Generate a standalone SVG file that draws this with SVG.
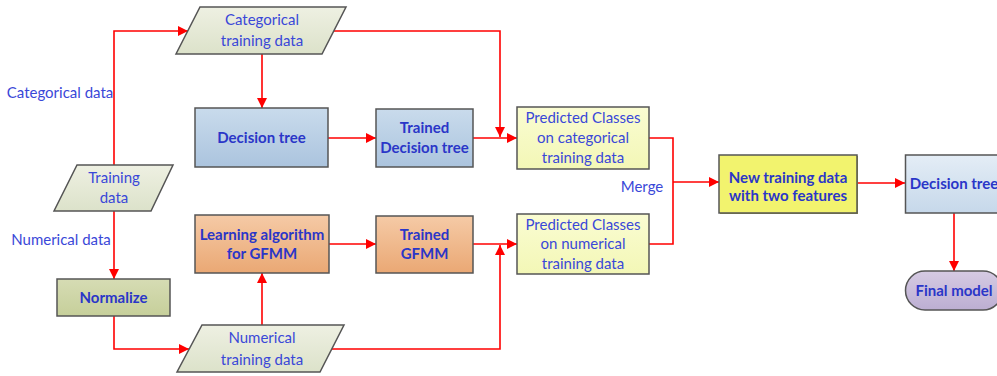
<svg xmlns="http://www.w3.org/2000/svg" width="997" height="376" viewBox="0 0 997 376">
<defs>
<linearGradient id="gBlue" x1="0" y1="0" x2="0" y2="1"><stop offset="0" stop-color="#c9dbec"/><stop offset="1" stop-color="#abc4de"/></linearGradient>
<linearGradient id="gBlue2" x1="0" y1="0" x2="0" y2="1"><stop offset="0" stop-color="#e4edf6"/><stop offset="1" stop-color="#c6d8ea"/></linearGradient>
<linearGradient id="gOrange" x1="0" y1="0" x2="0" y2="1"><stop offset="0" stop-color="#f5caa6"/><stop offset="1" stop-color="#eaa874"/></linearGradient>
<linearGradient id="gPara" x1="0" y1="0" x2="0" y2="1"><stop offset="0" stop-color="#eef0e2"/><stop offset="1" stop-color="#dce2ca"/></linearGradient>
<linearGradient id="gNorm" x1="0" y1="0" x2="0" y2="1"><stop offset="0" stop-color="#d6dcb4"/><stop offset="1" stop-color="#c6cf9a"/></linearGradient>
<linearGradient id="gPred" x1="0" y1="0" x2="0" y2="1"><stop offset="0" stop-color="#fafcd2"/><stop offset="1" stop-color="#f3f7b6"/></linearGradient>
<linearGradient id="gPurple" x1="0" y1="0" x2="0" y2="1"><stop offset="0" stop-color="#d6cbe3"/><stop offset="1" stop-color="#bcaed2"/></linearGradient>
<marker id="ah" viewBox="0 0 10 10" refX="10" refY="5" markerWidth="10" markerHeight="10" markerUnits="userSpaceOnUse" orient="auto">
<path d="M0,0 L10,5 L0,10 z" fill="#ff0000"/>
</marker>
</defs>
<style>
.shape{stroke:#555555;stroke-width:1.5}
.t{font-family:Lato,"Open Sans","Liberation Sans",sans-serif;font-size:15px;fill:#3a48d8;text-anchor:middle}
.b{font-family:Lato,"Open Sans","Liberation Sans",sans-serif;font-size:15px;font-weight:bold;fill:#2a36c8;text-anchor:middle}
.c{fill:none;stroke:#ff0000;stroke-width:1.6}
</style>
<rect width="997" height="376" fill="#ffffff"/>

<g id="connectors">
<path class="c" d="M114,165 V31 H188" marker-end="url(#ah)"/>
<path class="c" d="M262,54 V108" marker-end="url(#ah)"/>
<path class="c" d="M334,31 H500 V137" marker-end="url(#ah)"/>
<path class="c" d="M328,138 H376" marker-end="url(#ah)"/>
<path class="c" d="M473,138 H517" marker-end="url(#ah)"/>
<path class="c" d="M114,211 V279" marker-end="url(#ah)"/>
<path class="c" d="M114,316 V349 H189" marker-end="url(#ah)"/>
<path class="c" d="M262,325 V273" marker-end="url(#ah)"/>
<path class="c" d="M329,244 H376" marker-end="url(#ah)"/>
<path class="c" d="M473,244 H517" marker-end="url(#ah)"/>
<path class="c" d="M332,349 H500 V245" marker-end="url(#ah)"/>
<path class="c" d="M649,138 H673 V244 H649"/>
<path class="c" d="M673,182 H719" marker-end="url(#ah)"/>
<path class="c" d="M857,183 H905" marker-end="url(#ah)"/>
<path class="c" d="M954,213 V271" marker-end="url(#ah)"/>
</g>

<g id="lbl-categorical">
<text class="t" x="60" y="98">Categorical data</text>
</g>
<g id="lbl-numerical">
<text class="t" x="61" y="245">Numerical data</text>
</g>
<g id="lbl-merge">
<text class="t" x="642" y="192">Merge</text>
</g>

<g id="categorical-training-data">
<polygon class="shape" fill="url(#gPara)" points="200,7 346,7 322,54 176,54"/>
<text class="t" x="262" y="25">Categorical</text>
<text class="t" x="262" y="46">training data</text>
</g>

<g id="decision-tree">
<rect class="shape" fill="url(#gBlue)" x="195" y="108" width="133" height="59"/>
<text class="b" x="261.5" y="142.5">Decision tree</text>
</g>

<g id="trained-decision-tree">
<rect class="shape" fill="url(#gBlue)" x="376" y="109" width="97" height="58"/>
<text class="b" x="424.5" y="133">Trained</text>
<text class="b" x="424.5" y="153">Decision tree</text>
</g>

<g id="predicted-categorical">
<rect class="shape" fill="url(#gPred)" x="517" y="107" width="132" height="62"/>
<text class="t" x="583" y="123">Predicted Classes</text>
<text class="t" x="583" y="143">on categorical</text>
<text class="t" x="583" y="163">training data</text>
</g>

<g id="training-data">
<polygon class="shape" fill="url(#gPara)" points="77,165 173,165 151,211 54,211"/>
<text class="t" x="114" y="183">Training</text>
<text class="t" x="114" y="203">data</text>
</g>

<g id="normalize">
<rect class="shape" fill="url(#gNorm)" x="57" y="279" width="113" height="37"/>
<text class="b" x="113.5" y="302.5">Normalize</text>
</g>

<g id="learning-algorithm">
<rect class="shape" fill="url(#gOrange)" x="195" y="215" width="134" height="58"/>
<text class="b" x="262" y="240">Learning algorithm</text>
<text class="b" x="262" y="259">for GFMM</text>
</g>

<g id="numerical-training-data">
<polygon class="shape" fill="url(#gPara)" points="202,325 344,325 320,372 177,372"/>
<text class="t" x="262" y="343">Numerical</text>
<text class="t" x="262" y="365">training data</text>
</g>

<g id="trained-gfmm">
<rect class="shape" fill="url(#gOrange)" x="376" y="216" width="97" height="57"/>
<text class="b" x="424.5" y="240">Trained</text>
<text class="b" x="424.5" y="259">GFMM</text>
</g>

<g id="predicted-numerical">
<rect class="shape" fill="url(#gPred)" x="517" y="214" width="132" height="60"/>
<text class="t" x="583" y="230">Predicted Classes</text>
<text class="t" x="583" y="249">on numerical</text>
<text class="t" x="583" y="269">training data</text>
</g>

<g id="new-training-data">
<rect x="720" y="156" width="138" height="58" fill="#a0a040"/>
<rect class="shape" fill="#f2f36e" x="719" y="155" width="138" height="58"/>
<text class="b" x="788" y="183">New training data</text>
<text class="b" x="788" y="201">with two features</text>
</g>

<g id="decision-tree-2">
<rect class="shape" fill="url(#gBlue2)" x="905.5" y="155" width="97" height="58"/>
<text class="b" x="954" y="189">Decision tree</text>
</g>

<g id="final-model">
<rect class="shape" fill="url(#gPurple)" x="905.5" y="271" width="97" height="39" rx="19.5" ry="19.5"/>
<text class="b" x="954" y="296">Final model</text>
</g>
</svg>
